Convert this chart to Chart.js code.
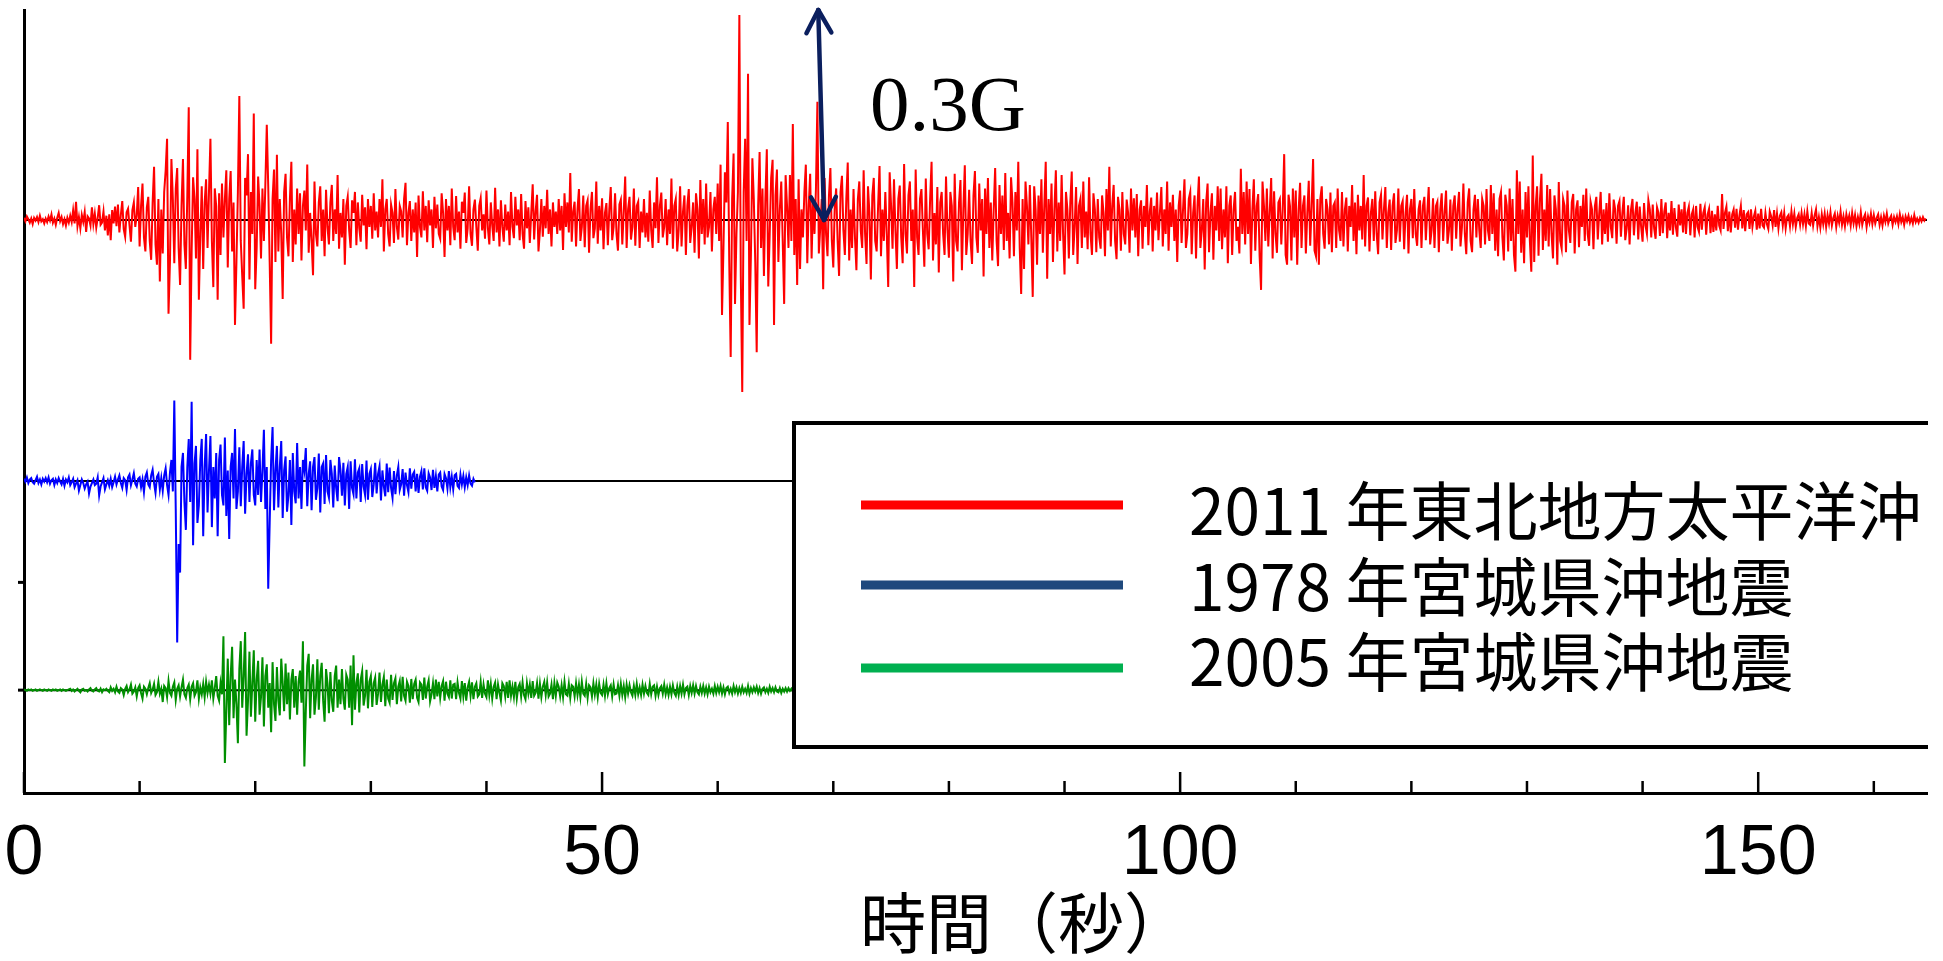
<!DOCTYPE html>
<html lang="ja">
<head>
<meta charset="utf-8">
<title>地震波形の比較</title>
<script src="https://cdn.jsdelivr.net/npm/chart.js@4.4.1/dist/chart.umd.min.js"></script>
<style>
  html, body { margin: 0; padding: 0; background: #ffffff; }
  #wrap { width: 1943px; height: 961px; }
</style>
</head>
<body>
<div id="wrap"><canvas id="chart" width="1943" height="961"></canvas></div>
<script>
// sample interval of the digitised records (seconds)
const DT = 0.125;

// 2011 record, acceleration in milli-G, one value every DT (one line = 2 s)
const quake2011 = [
  3,-2,5,1,-4,2,-6,3,-1,4,-3,6,-2,1,-5,2,
  -3,5,-1,8,-4,2,-7,3,10,-2,4,-6,1,-8,3,-4,
  6,-3,14,-5,26,-9,4,-12,7,-3,11,-17,5,2,-8,18,
  -6,9,-11,3,21,-7,-4,12,-15,6,-22,8,-29,14,-5,19,
  -9,22,-18,7,27,-13,-24,11,16,-8,-31,14,25,-10,6,47,
  -38,20,52,-25,-45,18,33,-30,-57,24,76,-35,-64,30,-88,15,
  -48,40,70,116,-134,-60,87,30,-62,45,74,-40,-93,20,87,-35,
  -70,35,161,-200,-45,61,30,-55,101,-114,-20,48,-70,25,58,-40,
  40,116,-30,-96,45,20,-114,38,-50,52,-25,30,71,-68,30,70,
  -45,25,-150,-60,40,177,-30,-80,-127,60,35,94,-85,40,-20,152,
  -99,-40,62,20,-55,45,-30,50,136,48,-60,-177,30,72,-60,93,
  -45,30,-20,-113,40,66,-25,-52,30,83,-60,15,-35,45,-20,38,
  -58,20,42,-15,79,-47,10,-30,-79,55,-20,-38,25,48,-30,15,
  -52,43,-10,-35,25,50,-30,15,-20,64,-41,10,-25,30,-64,20,
  33,-15,-40,28,10,40,-36,25,-12,-31,36,-8,18,-42,30,-10,
  20,-27,38,-15,12,-25,30,-10,58,-45,15,30,-20,-38,22,10,
  -33,44,-10,-28,20,12,-25,30,53,-36,10,27,-30,15,-18,25,
  -53,35,-10,-25,41,-15,20,-32,28,-8,15,-40,33,-12,22,-20,
  -27,38,10,-53,30,-15,20,-36,45,-10,-29,34,-18,12,-41,26,
  10,39,-33,-12,48,-20,-37,15,29,-10,-44,20,31,-15,8,-27,
  42,-12,-35,25,-8,-30,46,-18,15,-38,28,-10,-31,22,-15,12,
  -36,40,-10,-26,33,-8,15,-29,37,-20,-41,27,-12,18,-33,10,
  51,-28,12,36,-45,-15,30,-24,20,-12,43,-20,15,-38,25,-10,
  12,-20,30,-15,20,-43,38,-10,25,-18,67,-31,12,26,-38,15,
  44,-30,-10,35,-39,20,28,-47,15,40,-26,-12,55,-34,20,-15,
  31,-42,10,24,-36,15,47,-29,-10,38,-20,-44,22,29,-35,12,
  62,-40,15,33,-28,-10,45,-37,20,26,-40,12,-18,30,-25,10,
  -31,42,-15,-40,25,-12,61,-33,20,39,-25,-10,30,-36,15,-20,
  59,-41,20,30,-45,-15,48,-38,12,35,-50,20,44,-33,-10,25,
  -47,38,15,-55,57,-20,30,-35,52,-25,-10,40,-45,15,33,-20,
  52,-30,79,-136,-40,68,25,140,-60,-196,30,95,-120,-20,40,293,
  -80,-246,40,116,-30,209,-150,-50,88,30,-60,-189,20,97,-40,45,
  -80,30,101,-95,-20,60,86,-150,35,72,-60,15,55,-30,-120,64,
  20,-40,64,-30,137,-50,30,-93,58,-70,15,-25,40,79,-62,20,
  66,-55,30,-20,45,169,-48,-10,30,-99,60,-20,-52,35,74,-30,
  -68,20,45,-30,-80,40,63,-15,-50,30,82,-58,15,-40,44,-25,
  -72,30,55,-15,-40,71,-20,-63,48,10,-85,35,60,-30,-45,20,
  77,-52,15,-30,40,-20,-96,68,20,-41,58,-15,-70,30,49,-25,
  -62,80,-20,-48,35,55,-30,15,-96,72,-25,-50,30,44,-15,-67,
  59,-20,-42,30,83,-58,10,-35,47,-75,25,40,-20,-50,62,-15,
  -54,40,20,-88,66,-30,-45,25,57,-72,15,78,-50,-20,43,-30,
  -63,35,70,-25,-47,52,-15,30,-81,45,-20,60,-40,25,-58,15,
  74,-30,-66,50,-20,35,-43,67,-30,10,-55,61,25,-52,40,-15,
  83,-40,-106,30,-70,55,20,-35,50,-25,-110,48,15,-64,35,-20,
  58,-47,20,83,-84,30,-20,52,-60,15,71,-45,25,-30,64,-20,
  -78,40,15,-55,25,69,-50,-10,47,-63,20,30,-40,55,-25,12,
  -42,61,-20,-50,38,15,-46,30,-25,-41,35,10,-52,44,-15,76,
  -38,20,50,-30,-56,33,15,-44,40,-20,-35,29,10,-47,45,-15,
  31,-25,37,-52,15,28,-41,20,-10,50,-36,12,32,-45,20,-15,
  39,-29,10,47,-38,15,-20,55,-44,25,-10,36,-30,15,-60,20,
  42,-33,15,58,-40,-20,30,40,-49,10,35,-55,20,62,-40,-15,
  30,-71,25,52,-46,10,38,-57,20,-15,48,-30,45,-42,15,-25,
  48,-62,20,35,-50,15,40,-30,-10,-48,73,-20,40,-35,55,-20,
  44,-63,15,58,-44,20,37,-52,-100,55,20,-30,45,-38,12,60,
  -55,41,-20,-47,25,30,-35,15,94,-50,-64,36,20,-58,45,-25,
  42,-64,15,53,-40,20,35,-48,10,56,-37,20,87,-44,-52,30,
  -64,30,48,-20,-41,30,15,-35,39,-46,20,25,-40,45,-15,-30,
  40,-38,15,32,-45,20,-10,50,-30,25,-49,36,-15,20,-28,64,
  -38,20,32,-45,10,30,-30,41,-20,-49,25,36,-28,15,47,-40,
  10,29,-43,20,38,-33,-15,45,-31,20,27,-42,10,36,-48,15,
  30,-26,44,-20,-37,15,28,-40,20,33,-29,10,47,-35,-15,31,
  -40,20,26,-46,15,38,-30,10,42,-34,-15,29,-44,20,35,-27,
  15,40,-38,-10,52,-20,-49,25,45,-30,-46,15,36,-25,30,-15,
  -40,30,20,-35,44,-15,-30,50,-20,38,-44,15,-52,30,40,-25,
  -58,36,20,-45,45,-30,30,-50,-74,71,-20,55,-47,15,-62,40,
  -25,48,-30,-74,92,-60,20,48,-51,30,66,-43,15,-30,50,-38,
  44,-20,-55,35,15,-64,54,-30,-41,30,20,-46,42,-15,-33,25,
  37,-48,15,28,-39,20,-10,36,-30,45,-20,-37,26,15,-42,20,
  33,-28,10,40,-35,15,-20,24,-31,38,-10,-26,29,15,-34,20,
  27,-24,10,33,-29,-12,21,-35,15,30,-22,10,26,-28,19,-10,
  -31,24,-8,-20,28,15,-25,22,-12,-27,18,10,-23,30,-19,12,
  25,-26,10,-15,27,-21,17,-10,-24,22,-8,15,-18,26,-20,10,
  19,-22,8,15,-25,20,-10,-17,23,-14,10,18,-21,8,16,-19,
  13,-17,8,-15,20,-8,-15,37,-13,10,19,-16,12,-18,8,15,
  -11,16,-14,6,20,-12,14,-16,8,11,-13,15,-10,5,13,-14,
  9,-12,16,-8,-11,10,-6,-13,12,5,-8,14,-10,9,-12,6,
  11,-8,10,-12,4,7,-9,12,-6,9,-10,3,8,-7,10,-6,
  8,-9,12,-5,-7,10,-8,6,15,-9,4,-11,8,-6,9,-10,
  7,-5,11,-8,3,9,-10,6,-4,12,-7,5,-9,8,-3,6,
  -8,10,-5,7,-9,4,-6,11,-7,3,8,-10,5,-4,9,-6,
  7,-5,3,8,-7,4,-8,6,-3,9,-5,2,6,-7,4,-3,
  5,-6,8,-3,4,-7,5,-2,6,-4,3,-5,7,-3,2,-4,
  3,-2,4,-1,2
];

// 1978 record, milli-G
const quake1978 = [
  3,-1,5,-3,2,4,-2,-4,1,6,-3,2,-5,3,-1,4,
  -2,5,-4,1,3,-6,2,-3,4,-1,-5,3,-7,2,-2,5,
  -6,-2,3,-9,-4,1,-14,-6,2,-3,-11,-5,-1,-18,-8,-3,
  2,-6,-4,5,-21,-8,-2,4,-12,-5,1,-7,3,-9,-2,6,
  -5,2,8,-3,-10,4,1,-13,5,9,-6,2,11,-4,-8,3,
  5,-9,2,-16,6,12,-5,-9,8,16,-3,-17,6,10,-12,4,
  -14,8,18,-6,-20,12,30,-15,115,-40,-231,-90,-131,20,40,-30,
  -70,20,60,-30,113,-92,25,50,-60,-35,30,60,-79,20,67,-45,
  15,64,-66,20,-25,40,-79,30,52,-20,-35,62,-50,15,-83,20,
  40,-25,74,-40,-15,48,-36,20,57,-47,10,38,-30,25,45,-20,
  -35,30,-20,45,-30,15,73,-40,20,-154,-60,30,77,-42,15,50,
  -38,20,57,-53,15,35,-44,-20,30,-63,40,-15,-32,54,-25,20,
  -40,30,15,47,-36,10,28,-42,20,34,-27,-10,39,-45,20,25,
  -33,37,-15,-24,30,10,-38,22,-10,-29,34,15,-21,26,-35,10,
  20,-40,28,-10,-19,31,-25,12,18,-30,24,-8,-20,29,-27,10,
  17,-23,-5,26,-18,10,21,-28,15,-8,-22,25,-16,19,-10,-24,
  14,-19,8,20,-13,-5,17,-21,12,-6,-16,18,-11,9,13,-15,
  10,-17,6,14,-12,18,-9,-14,11,5,-13,16,-10,7,-15,9,
  12,-8,-13,10,4,-11,14,-9,6,-12,8,10,-7,-10,9,-5,
  7,-9,5,-6,8,-4,-7,3,-2
];

// 2005 record, milli-G
const quake2005 = [
  1,0,-1,1,0,1,-1,0,1,-1,0,1,0,-1,1,0,
  -1,1,0,-1,1,0,1,-1,0,1,-1,1,0,-1,0,1,
  2,-1,1,-2,0,2,-1,-3,1,2,-1,0,-2,1,3,-1,
  -2,1,3,-1,-2,2,-3,1,0,2,-1,-3,4,-1,2,-3,
  5,-2,-4,3,1,-7,2,6,-3,1,8,-5,-2,4,-9,3,
  7,-4,-12,5,2,-6,3,10,-4,1,9,-7,-3,12,-5,2,
  -17,6,3,-10,13,-4,-8,5,11,-14,2,7,-9,4,15,-6,
  -11,3,8,-13,5,10,-8,-3,14,-12,4,-6,9,-10,12,-4,
  8,-5,14,-12,3,20,-8,-15,10,-6,77,-104,-30,45,-50,20,
  62,-40,15,-20,-76,30,70,-25,20,83,-65,-15,55,-38,10,57,
  -45,15,42,-35,-10,47,-52,20,37,-25,10,-60,40,-20,-44,33,
  -15,-36,45,10,-30,38,-20,25,-42,15,30,-25,20,-35,12,28,
  -18,70,-109,-30,35,52,-40,15,37,-35,-10,44,-28,20,39,-15,
  -45,30,10,-33,26,-15,-31,20,35,-25,15,-20,30,-12,-28,22,
  15,-25,35,-50,50,-28,10,24,-32,15,27,-22,-8,29,-26,12,
  20,-24,10,18,-21,-5,25,-17,8,19,-23,15,-12,-18,22,-14,
  10,17,-20,5,13,-16,19,-8,-15,12,6,-18,16,-13,9,15,
  -11,-17,11,8,-14,18,-12,5,14,-16,-6,10,-13,15,-9,12,
  -11,6,13,-15,12,-5,-10,14,-12,8,9,-13,11,-4,-12,13,
  -9,10,-15,4,12,-8,11,-13,5,10,-9,-6,12,-11,8,-5,
  -10,14,-7,9,-12,5,11,-13,8,-4,-15,10,6,-9,12,-11,
  14,-8,5,-10,12,-12,4,9,-9,11,-7,-13,10,-5,8,-11,
  13,-8,-4,10,-12,9,-10,5,12,-7,11,-9,-5,8,-13,10,
  -8,11,5,-9,7,-10,12,-6,-8,9,-11,7,5,-9,10,-7,
  8,-10,12,-5,-8,9,-11,7,4,-9,10,-6,8,-10,9,-4,
  -7,8,-8,10,-6,3,7,-9,8,-6,-5,7,-8,9,-7,6,
  -10,8,-5,7,-3,-8,6,-7,9,-6,4,-7,8,-5,6,-4,
  -7,9,-6,5,7,-8,5,-7,3,6,-5,8,-6,4,-7,5,
  -6,7,-4,-8,5,-7,6,-5,8,-6,3,5,-7,6,-4,7,
  -5,6,-3,-6,5,-4,6,-5,4,-6,5,-3,2,-5,6,-4,
  5,-3,6,-5,4,-6,3,5,-4,2,-5,6,-3,4,-5,3,
  -4,5,-3,2,-4,6,-5,3,-3,4,-2,5,-4,3,-5,2,
  4,-3,2,-4,5,-2,3,-3,4,-2,-3,3,-4,2,-2,3,
  -2,3,-1,2,-2
];

const seriesLabels = ['2011 年東北地方太平洋沖', '1978 年宮城県沖地震', '2005 年宮城県沖地震'];
const xTicks = [0, 10, 20, 30, 40, 50, 60, 70, 80, 90, 100, 110, 120, 130, 140, 150, 160];
const xLabelTicks = [0, 50, 100, 150];
const yTickMarks = [147, 301];
const xTitle = '時間（秒）';
const scaleBarMg = 300;
const scaleBarText = '0.3G';

// vertical offset of each trace on the stacked plot (milli-G)
const offsets = { y2011: 819, y1978: 446, y2005: 147 };
const scaleBarTime = [68.7, 69.2];
const X_MAX = 164.6;
const Y_MAX = 1119;

function toPoints(values, base) {
  return values.map((v, i) => ({ x: i * DT, y: base + v }));
}

function baseline(base, end) {
  return [{ x: 0, y: base }, { x: end, y: base }];
}

const traceStyle = { type: 'line', pointRadius: 0, borderWidth: 2, tension: 0, order: 0 };
const baseStyle = { type: 'line', pointRadius: 0, borderWidth: 2, borderColor: '#000000', order: 5, isBase: true };

const datasets = [
  { ...traceStyle, label: seriesLabels[0], data: toPoints(quake2011, offsets.y2011), borderColor: '#ff0000', legendColor: '#ff0000' },
  { ...traceStyle, label: seriesLabels[1], data: toPoints(quake1978, offsets.y1978), borderColor: '#0000ff', legendColor: '#1f497d' },
  { ...traceStyle, label: seriesLabels[2], data: toPoints(quake2005, offsets.y2005), borderColor: '#008f00', legendColor: '#00b050' },
  { ...baseStyle, label: '', data: baseline(offsets.y2011, X_MAX) },
  { ...baseStyle, label: '', data: baseline(offsets.y1978, X_MAX) },
  { ...baseStyle, label: '', data: baseline(offsets.y2005, X_MAX) }
];

// tick marks, legend box, 0.3G arrow and axis title
const decorPlugin = {
  id: 'decor',
  afterDatasetsDraw(chart) {
    const { ctx, chartArea, scales: { x, y } } = chart;
    ctx.save();

    // ticks point into the plot
    ctx.strokeStyle = '#000000';
    ctx.lineWidth = 2.5;
    xTicks.forEach(v => {
      const px = x.getPixelForValue(v);
      const len = xLabelTicks.includes(v) ? 21 : 12;
      ctx.beginPath();
      ctx.moveTo(px, chartArea.bottom);
      ctx.lineTo(px, chartArea.bottom - len);
      ctx.stroke();
    });
    ctx.lineWidth = 3;
    yTickMarks.forEach(v => {
      const py = y.getPixelForValue(v);
      ctx.beginPath();
      ctx.moveTo(chartArea.left - 6, py);
      ctx.lineTo(chartArea.left, py);
      ctx.stroke();
    });

    // legend box, cut off at the right like the original
    const box = { left: 794, top: 423, bottom: 747, clipRight: 1928 };
    ctx.save();
    ctx.beginPath();
    ctx.rect(0, 0, box.clipRight, chart.height);
    ctx.clip();
    ctx.fillStyle = '#ffffff';
    ctx.fillRect(box.left, box.top, chart.width, box.bottom - box.top);
    ctx.strokeStyle = '#000000';
    ctx.lineWidth = 4;
    ctx.beginPath();
    ctx.moveTo(chart.width + 10, box.top);
    ctx.lineTo(box.left, box.top);
    ctx.lineTo(box.left, box.bottom);
    ctx.lineTo(chart.width + 10, box.bottom);
    ctx.stroke();

    const rows = [{ line: 505, text: 511 }, { line: 585, text: 587 }, { line: 668, text: 662 }];
    ctx.font = '64px "Noto Sans CJK JP"';
    ctx.textAlign = 'left';
    ctx.textBaseline = 'middle';
    chart.data.datasets.filter(d => !d.isBase).forEach((d, i) => {
      ctx.strokeStyle = d.legendColor;
      ctx.lineWidth = 9;
      ctx.lineCap = 'butt';
      ctx.beginPath();
      ctx.moveTo(861, rows[i].line);
      ctx.lineTo(1123, rows[i].line);
      ctx.stroke();
      ctx.fillStyle = '#000000';
      ctx.fillText(d.label, 1189, rows[i].text);
    });
    ctx.restore();

    // 0.3G scale arrow
    const ax0 = x.getPixelForValue(scaleBarTime[0]);
    const ay0 = y.getPixelForValue(offsets.y2011 + scaleBarMg);
    const ax1 = x.getPixelForValue(scaleBarTime[1]);
    const ay1 = y.getPixelForValue(offsets.y2011);
    ctx.strokeStyle = '#0b1f5e';
    ctx.lineWidth = 4.5;
    ctx.lineCap = 'round';
    ctx.lineJoin = 'round';
    ctx.beginPath();
    ctx.moveTo(ax0, ay0);
    ctx.lineTo(ax1, ay1);
    ctx.stroke();
    const ang = Math.atan2(ay1 - ay0, ax1 - ax0);
    const head = (tx, ty, dir) => {
      [-0.5, 0.5].forEach(da => {
        const a = dir + Math.PI + da;
        ctx.beginPath();
        ctx.moveTo(tx, ty);
        ctx.lineTo(tx + 26 * Math.cos(a), ty + 26 * Math.sin(a));
        ctx.stroke();
      });
    };
    head(ax1, ay1, ang);
    head(ax0, ay0, ang + Math.PI);

    ctx.fillStyle = '#000000';
    ctx.font = '79px "Liberation Serif"';
    ctx.textBaseline = 'alphabetic';
    ctx.fillText(scaleBarText, ax1 + 46, chartArea.top + 120);

    // axis title
    ctx.font = '66px "Noto Sans CJK JP"';
    ctx.textBaseline = 'middle';
    ctx.fillText(xTitle, 860, 923);

    ctx.restore();
  }
};

new Chart(document.getElementById('chart'), {
  type: 'line',
  data: { datasets },
  options: {
    responsive: false,
    animation: false,
    layout: { padding: { left: 24, top: 10, right: 16, bottom: 44 } },
    scales: {
      x: {
        type: 'linear',
        min: 0,
        max: X_MAX,
        grid: { drawOnChartArea: false, drawTicks: false },
        border: { display: true, color: '#000000', width: 3 },
        ticks: {
          stepSize: 10,
          includeBounds: false,
          autoSkip: false,
          maxRotation: 0,
          padding: 0,
          color: '#000000',
          font: { family: 'Liberation Sans', size: 70, lineHeight: 124 / 70 },
          callback: v => (xLabelTicks.includes(v) ? String(v) : '')
        }
      },
      y: {
        min: 0,
        max: Y_MAX,
        grid: { drawOnChartArea: false, drawTicks: false },
        border: { display: true, color: '#000000', width: 3 },
        ticks: { display: false },
        afterFit: scale => { scale.width = 0; }
      }
    },
    plugins: {
      legend: { display: false },
      tooltip: { enabled: false }
    }
  },
  plugins: [decorPlugin]
});
</script>
</body>
</html>
